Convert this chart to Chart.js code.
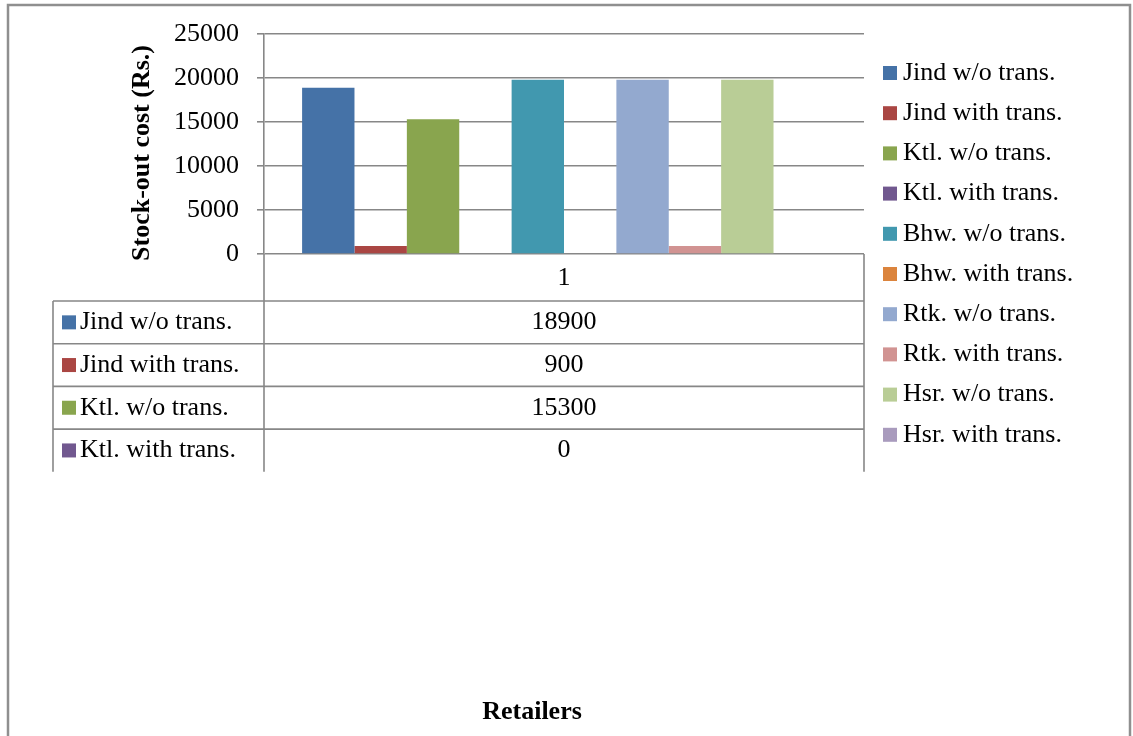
<!DOCTYPE html>
<html>
<head>
<meta charset="utf-8">
<title>Stock-out cost by retailer</title>
<script src="https://cdn.jsdelivr.net/npm/chart.js@4.4.1/dist/chart.umd.min.js"></script>
<style>
  html, body { margin: 0; padding: 0; background: #ffffff; }
  canvas { display: block; }
</style>
</head>
<body>
<canvas id="chart" width="1133" height="736"></canvas>
<script>
// Category on the x axis
const categories = ['1'];

// Series: retailer, with / without transshipment
const seriesNames = [
  'Jind w/o trans.', 'Jind with trans.',
  'Ktl. w/o trans.', 'Ktl. with trans.',
  'Bhw. w/o trans.', 'Bhw. with trans.',
  'Rtk. w/o trans.', 'Rtk. with trans.',
  'Hsr. w/o trans.', 'Hsr. with trans.'
];

// Stock-out cost (Rs.) for each series
const seriesValues = [18900, 900, 15300, 0, 19800, 0, 19800, 900, 19800, 0];

// Value axis range
const yMin = 0;
const yMax = 25000;
const yStep = 5000;

// Series colours
const seriesColors = [
  '#4572A7', '#AA4643', '#89A54E', '#71588F', '#4198AF',
  '#DB843D', '#93A9CF', '#D19392', '#B9CD96', '#A99BBD'
];

const FONT_FAMILY = '"Liberation Serif", "Times New Roman", serif';
const LINE_COLOR = '#878787';
const TEXT_SIZE = 26;

const datasets = seriesNames.map((name, i) => ({
  label: name,
  data: [seriesValues[i]],
  backgroundColor: seriesColors[i],
  borderWidth: 0
}));

// Outer frame, right-hand legend, axis titles and the data table under the plot
const tableAndLegend = {
  id: 'tableAndLegend',
  afterDraw(chart) {
    const { ctx, chartArea: ca, scales } = chart;
    ctx.save();

    // outer frame
    ctx.strokeStyle = '#8f8f8f';
    ctx.lineWidth = 2.5;
    ctx.strokeRect(8, 5, 1122, 800);

    // data table geometry
    const tableLeft = 53;
    const headerBottom = ca.bottom + 47;
    const rowH = 42.7;
    const rowCount = 4;
    const tableBottom = headerBottom + rowCount * rowH;
    const xCenter = scales.x ? scales.x.getPixelForValue(0) : (ca.left + ca.right) / 2;

    ctx.strokeStyle = LINE_COLOR;
    ctx.lineWidth = 1.6;
    ctx.beginPath();
    // axis line continues through the table
    ctx.moveTo(ca.left, ca.bottom); ctx.lineTo(ca.left, tableBottom);
    // right edge of table
    ctx.moveTo(ca.right, ca.bottom); ctx.lineTo(ca.right, tableBottom);
    // left edge of legend column
    ctx.moveTo(tableLeft, headerBottom); ctx.lineTo(tableLeft, tableBottom);
    for (let r = 0; r < rowCount; r++) {
      const yy = headerBottom + r * rowH;
      ctx.moveTo(tableLeft, yy); ctx.lineTo(ca.right, yy);
    }
    ctx.stroke();

    ctx.fillStyle = '#000';
    ctx.font = TEXT_SIZE + 'px ' + FONT_FAMILY;
    ctx.textBaseline = 'middle';
    ctx.textAlign = 'center';
    ctx.fillText(categories[0], xCenter, (ca.bottom + headerBottom) / 2 + 1);

    for (let r = 0; r < rowCount; r++) {
      const cy = headerBottom + r * rowH + rowH / 2;
      ctx.fillStyle = seriesColors[r];
      ctx.fillRect(62, cy - 7, 14, 14);
      ctx.fillStyle = '#000';
      ctx.textAlign = 'left';
      ctx.fillText(seriesNames[r], 80, cy);
      ctx.textAlign = 'center';
      ctx.fillText(String(seriesValues[r]), xCenter, cy);
    }

    // legend on the right
    const legX = 883;
    const legTop = 73;
    const legStep = 40.2;
    seriesNames.forEach((name, i) => {
      const cy = legTop + i * legStep;
      ctx.fillStyle = seriesColors[i];
      ctx.fillRect(legX, cy - 7, 14, 14);
      ctx.fillStyle = '#000';
      ctx.textAlign = 'left';
      ctx.fillText(name, legX + 20, cy);
    });

    // axis titles
    ctx.font = 'bold ' + TEXT_SIZE + 'px ' + FONT_FAMILY;
    ctx.textAlign = 'center';
    ctx.save();
    ctx.translate(142, 153);
    ctx.rotate(-Math.PI / 2);
    ctx.fillText('Stock-out cost (Rs.)', 0, 0);
    ctx.restore();
    ctx.fillText('Retailers', 532, 712);

    ctx.restore();
  }
};

new Chart(document.getElementById('chart'), {
  type: 'bar',
  data: { labels: categories, datasets },
  options: {
    responsive: false,
    animation: false,
    devicePixelRatio: 1,
    layout: { padding: { left: 0, top: 34, right: 269, bottom: 482 } },
    datasets: { bar: { categoryPercentage: 0.873, barPercentage: 1 } },
    plugins: {
      legend: { display: false },
      tooltip: { enabled: false },
      title: { display: false }
    },
    scales: {
      x: { display: false },
      y: {
        min: yMin,
        max: yMax,
        ticks: {
          stepSize: yStep,
          padding: 18,
          color: '#000',
          font: { family: FONT_FAMILY, size: TEXT_SIZE },
          callback: (v) => String(v)
        },
        grid: { color: LINE_COLOR, lineWidth: 1.6, tickLength: 7 },
        border: { display: true, color: LINE_COLOR, width: 1.6 },
        afterFit(scale) { scale.width = 264; }
      }
    }
  },
  plugins: [tableAndLegend]
});
</script>
</body>
</html>
